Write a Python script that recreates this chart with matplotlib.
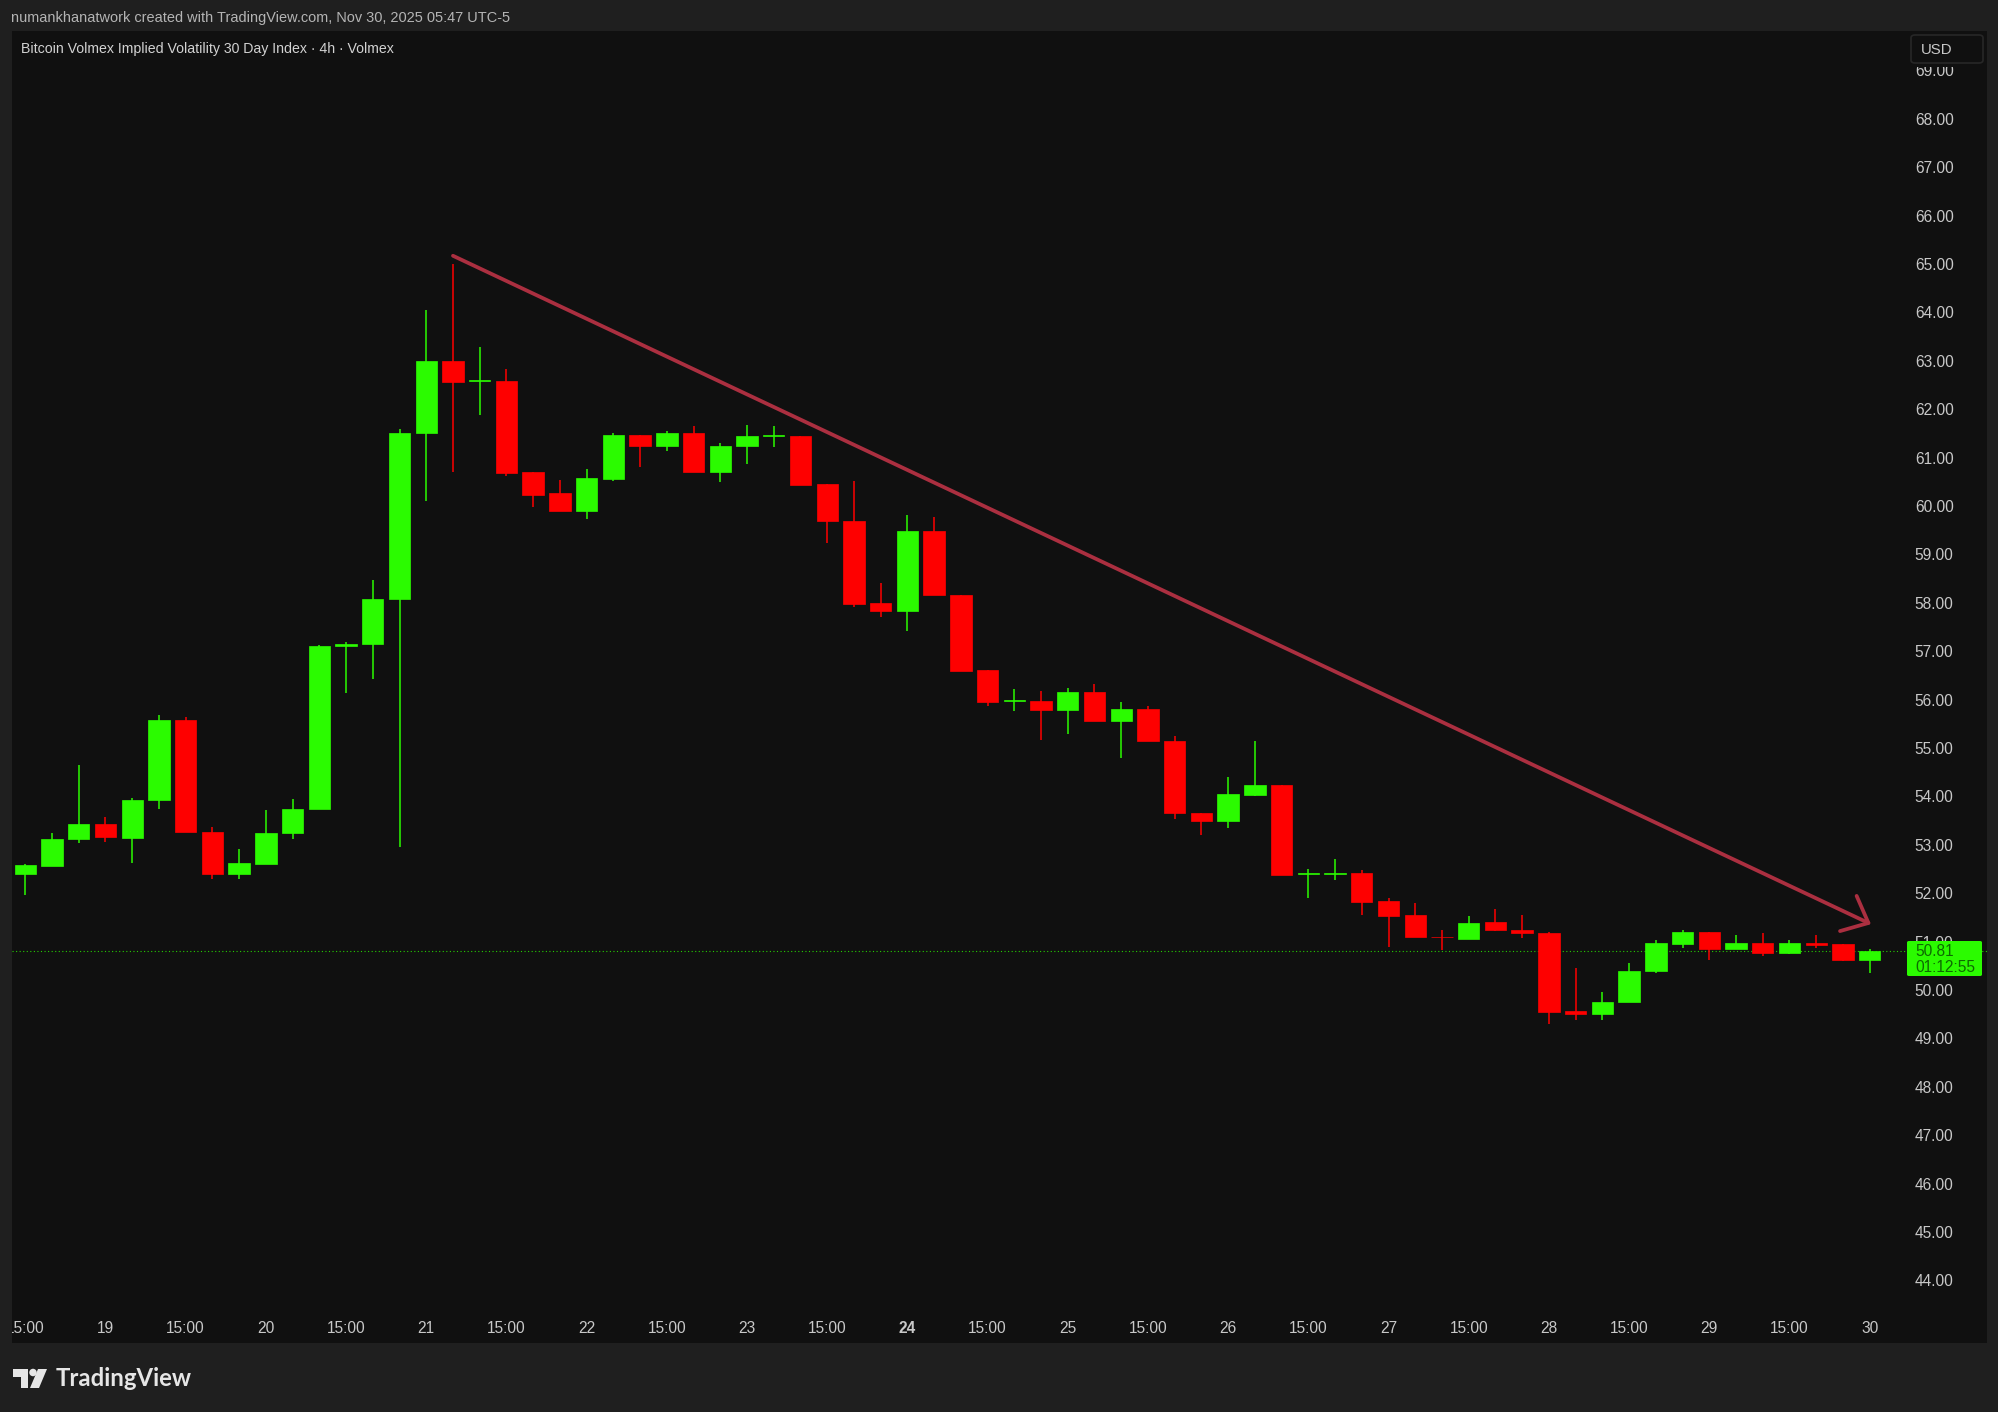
import matplotlib
matplotlib.use("Agg")
import matplotlib.pyplot as plt
from matplotlib.patches import Rectangle, FancyBboxPatch, Polygon, Ellipse
import numpy as np

W, H = 1999, 1412
BG_OUT = "#1f1f1f"; BG = "#101010"
UP = "#2bfb00"; DOWN = "#fe0000"; TXT = "#c8c8c8"; LINE = "#ab2f40"

opens = [52.39,52.57,53.11,53.44,53.15,53.92,55.58,53.27,52.40,52.61,53.24,53.74,57.10,57.14,58.08,61.50,62.99,62.59,62.59,60.70,
         60.26,59.90,60.56,61.47,61.25,61.50,60.71,61.23,61.45,61.45,60.45,59.68,57.99,57.84,59.48,58.17,56.61,55.98,55.97,55.78,
         56.15,55.56,55.81,55.15,53.66,53.49,54.02,54.24,52.39,52.39,52.42,51.83,51.54,51.10,51.06,51.40,51.24,51.17,49.56,49.50,
         49.76,50.39,50.96,51.19,50.84,50.97,50.76,50.97,50.95,50.62]
closes = [52.58,53.11,53.44,53.155,53.93,55.58,53.27,52.40,52.63,53.24,53.74,57.11,57.14,58.08,61.50,62.99,62.56,62.61,60.68,60.23,
          59.89,60.57,61.47,61.25,61.50,60.71,61.24,61.44,61.46,60.44,59.68,57.97,57.83,59.48,58.16,56.60,55.96,55.99,55.78,56.15,
          55.56,55.81,55.14,53.65,53.49,54.04,54.24,52.37,52.41,52.42,51.82,51.53,51.09,51.09,51.39,51.23,51.17,49.55,49.50,49.76,
          50.40,50.97,51.19,50.84,50.98,50.76,50.98,50.93,50.62,50.81]
highs = [52.60,53.25,54.65,53.58,53.96,55.68,55.65,53.37,52.91,53.72,53.94,57.12,57.20,58.47,61.59,64.04,65.00,63.29,62.83,60.70,
         60.53,60.76,61.50,61.47,61.54,61.66,61.30,61.67,61.65,61.45,60.45,60.52,58.40,59.82,59.77,58.17,56.61,56.21,56.17,56.25,
         56.32,55.96,55.87,55.25,53.66,54.41,55.15,54.24,52.50,52.70,52.47,51.90,51.80,51.23,51.52,51.67,51.54,51.19,50.45,49.95,
         50.55,51.03,51.24,51.20,51.14,51.17,51.03,51.14,50.95,50.85]
lows = [51.96,52.56,53.03,53.05,52.63,53.74,53.26,52.30,52.29,52.61,53.13,53.73,56.14,56.42,52.96,60.11,60.71,61.87,60.63,59.97,
        59.89,59.73,60.52,60.80,61.13,60.71,60.50,60.87,61.21,60.44,59.24,57.91,57.70,57.42,58.16,56.60,55.87,55.77,55.17,55.28,
        55.56,54.80,55.14,53.54,53.20,53.34,54.00,52.37,51.90,52.27,51.55,50.88,51.09,50.83,51.06,51.22,51.07,49.30,49.39,49.37,
        49.76,50.35,50.86,50.62,50.84,50.70,50.74,50.86,50.59,50.35]
last_price = 50.81
countdown = "01:12:55"
x_tick_pos = list(range(0, 70, 3))
x_tick_labels = ["15:00","19","15:00","20","15:00","21","15:00","22","15:00","23","15:00","24",
                 "15:00","25","15:00","26","15:00","27","15:00","28","15:00","29","15:00","30"]
y_ticks = list(range(44, 70))
trend_x = [16.0, 69.05]
trend_y = [65.17, 51.36]

fig = plt.figure(figsize=(W/100, H/100), dpi=100, facecolor=BG_OUT)
plt.rcParams['font.family'] = ['Liberation Sans', 'DejaVu Sans']
L, R, T, B = 12, 1987, 31, 1343
ax = fig.add_axes([L/W, 1-B/H, (R-L)/W, (B-T)/H], facecolor=BG)
X0, DX, Y50, DY = 25.3, 26.73, 990.0, 48.4
ax.set_xlim((L-X0)/DX, (R-X0)/DX)
ax.set_ylim(50+(Y50-B)/DY, 50+(Y50-T)/DY)
for s in ax.spines.values():
    s.set_visible(False)

idx = np.arange(len(opens))
o, c, h, l = map(np.array, (opens, closes, highs, lows))
colors = [UP if a > b else DOWN for a, b in zip(c, o)]
ax.axhline(last_price, color=UP, lw=0.8, ls=(0, (1, 2.2)), alpha=.8, zorder=1)
ax.vlines(idx, l, h, colors=colors, lw=1.1, zorder=2)
ax.bar(idx, np.abs(c-o), bottom=np.minimum(o, c), width=0.80, color=colors, linewidth=0.5, edgecolor=colors, zorder=3)

ax.annotate("", xy=(trend_x[1], trend_y[1]), xytext=(trend_x[0], trend_y[0]), zorder=4,
            arrowprops=dict(arrowstyle="->,head_length=1.6,head_width=1.4", color=LINE, lw=2.7,
                            shrinkA=0, shrinkB=0, mutation_scale=10))

ax.yaxis.tick_right()
ax.set_yticks(y_ticks)
ax.set_yticklabels([f"{v:.2f}" for v in y_ticks])
ax.tick_params(axis="y", length=0, pad=-52, labelsize=11.2, labelcolor=TXT)
for t in ax.get_yticklabels():
    t.set_ha("left")
ax.set_xticks(x_tick_pos)
ax.set_xticklabels(x_tick_labels)
ax.tick_params(axis="x", length=0, pad=-15.5, labelsize=11.2, labelcolor=TXT)
for t in ax.get_xticklabels():
    t.set_clip_on(True)
    t.set_clip_box(ax.bbox)
    if t.get_text() == "24":
        t.set_fontweight("bold")

def fx(px): return px/W
def fy(py): return 1-py/H

# price label
fig.add_artist(FancyBboxPatch((fx(1907), fy(976)), 75/W, 35/H, transform=fig.transFigure,
                              boxstyle="round,pad=0,rounding_size=0.001", fc=UP, ec=UP, lw=0, zorder=5))
fig.text(fx(1915), fy(951), f"{last_price:.2f}", color="#0d6a02", fontsize=11.2, va="center", zorder=6)
fig.text(fx(1915), fy(967), countdown, color="#0d6a02", fontsize=11.2, va="center", zorder=6)

# USD box: its padding hides the top of the 69.00 label
fig.add_artist(Rectangle((fx(1909), fy(66.5)), 76/W, 35/H, transform=fig.transFigure, fc=BG, ec="none", zorder=5))
fig.add_artist(FancyBboxPatch((fx(1911), fy(63)), 72/W, 28/H, transform=fig.transFigure,
                              boxstyle="round,pad=0,rounding_size=0.002", fc=BG, ec="#272727", lw=1.2, zorder=5))
fig.text(fx(1921), fy(49.5), "USD", color=TXT, fontsize=10.8, va="center", zorder=6)

fig.text(fx(11), fy(18), "numankhanatwork created with TradingView.com, Nov 30, 2025 05:47 UTC-5",
         color="#b4b4b4", fontsize=10.45, va="center")
fig.text(fx(21), fy(49), "Bitcoin Volmex Implied Volatility 30 Day Index · 4h · Volmex",
         color="#d2d2d2", fontsize=10.2, va="center")

# logo
LOGO = "#e6e6e6"
fig.add_artist(Polygon([(fx(13), fy(1369)), (fx(28.5), fy(1369)), (fx(28.5), fy(1388)), (fx(21), fy(1388)),
                        (fx(21), fy(1376.5)), (fx(13), fy(1376.5))], closed=True, transform=fig.transFigure, fc=LOGO, ec="none"))
fig.add_artist(Polygon([(fx(38), fy(1369)), (fx(47), fy(1369)), (fx(39), fy(1388)), (fx(30), fy(1388))],
                       closed=True, transform=fig.transFigure, fc=LOGO, ec="none"))
fig.add_artist(Ellipse((fx(33), fy(1372.5)), 7.5/W, 7.5/H, transform=fig.transFigure, fc=LOGO, ec="none"))
fig.text(fx(56), fy(1379), "TradingView", color=LOGO, fontsize=17.2, va="center", family=["Lato", "DejaVu Sans"], fontweight="bold")

fig.savefig("out.png", dpi=100, facecolor=BG_OUT)
